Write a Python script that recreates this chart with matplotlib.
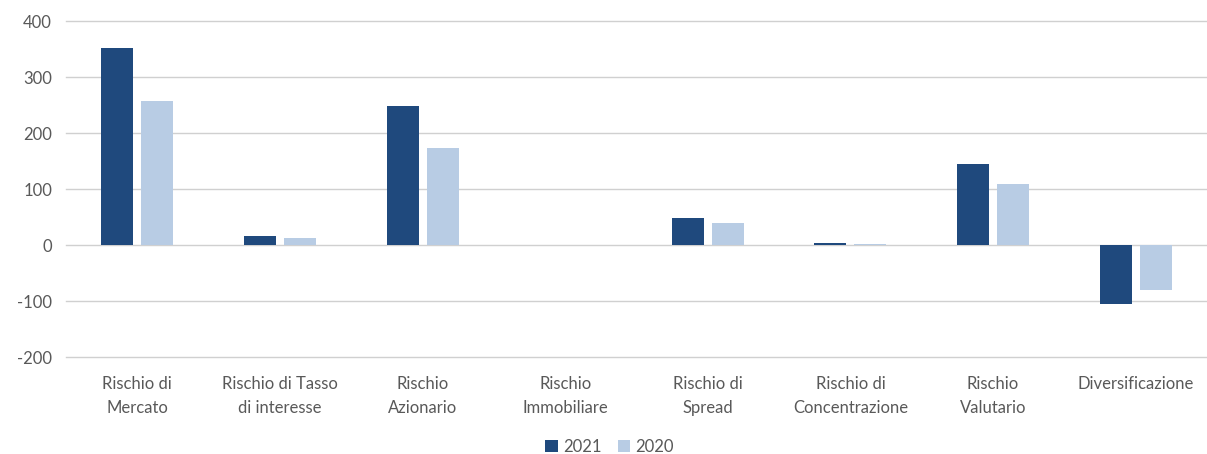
import matplotlib.pyplot as plt
import numpy as np

plt.rcParams['font.family'] = ['Lato', 'DejaVu Sans']
plt.rcParams['axes.unicode_minus'] = False

categories = ["Rischio di\nMercato", "Rischio di Tasso\ndi interesse", "Rischio\nAzionario",
              "Rischio\nImmobiliare", "Rischio di\nSpread", "Rischio di\nConcentrazione",
              "Rischio\nValutario", "Diversificazione"]
values_2021 = [352, 16, 248, 0, 48, 4, 145, -105]
values_2020 = [257, 12, 173, 0, 39, 2, 109, -80]

dark = "#1f497d"
light = "#b8cce4"
text_col = "#595959"

fig = plt.figure(figsize=(12.07, 4.54), dpi=100)
ax = fig.add_axes([66 / 1207, 1 - 357 / 454, 1 - 66 / 1207, (357 - 21) / 454])

x = np.arange(len(categories))
width = 0.224
gap = 0.056
ax.bar(x - (width + gap) / 2, values_2021, width, color=dark, label="2021", zorder=3)
ax.bar(x + (width + gap) / 2, values_2020, width, color=light, label="2020", zorder=3)

ax.set_xlim(-0.5, len(categories) - 0.5)
ax.set_ylim(-200, 400)
ax.set_yticks(range(-200, 401, 100))
ax.grid(axis="y", color="#d0d0d0", linewidth=1, zorder=0)
for gl in ax.get_ygridlines():
    gl.set_clip_on(False)
for s in ax.spines.values():
    s.set_visible(False)

ax.set_xticks(x)
ax.set_xticklabels(categories, fontsize=12, color=text_col, linespacing=1.55)
ax.tick_params(axis="x", length=0, pad=14)
ax.tick_params(axis="y", length=0, pad=10, labelsize=12, labelcolor=text_col)

leg = fig.legend(loc="lower center", bbox_to_anchor=(0.505, -0.035), ncol=2, frameon=False,
                 fontsize=12, handlelength=0.75, handleheight=0.75, handletextpad=0.3,
                 columnspacing=1.0)
for t in leg.get_texts():
    t.set_color(text_col)

fig.savefig("out.png", dpi=100)
